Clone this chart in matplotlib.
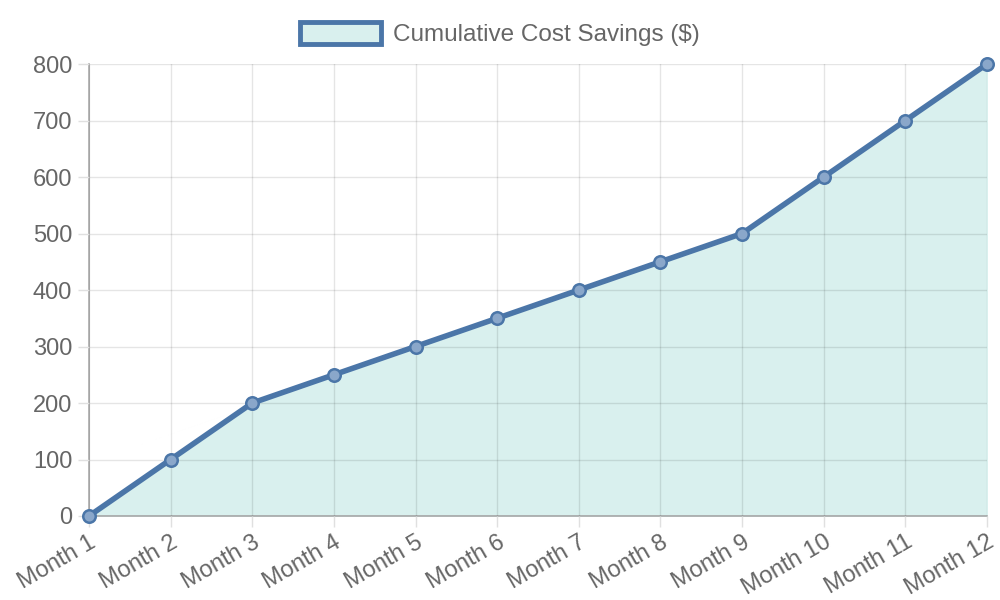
import numpy as np
import matplotlib.pyplot as plt
from matplotlib.patches import Patch

months = ["Month 1", "Month 2", "Month 3", "Month 4", "Month 5", "Month 6",
          "Month 7", "Month 8", "Month 9", "Month 10", "Month 11", "Month 12"]
savings = [0, 100, 200, 250, 300, 350, 400, 450, 500, 600, 700, 800]

line_color = '#4b76a8'
fill_color = '#d9f0ee'
text_color = '#666666'

plt.rcParams['font.family'] = ['Liberation Sans', 'DejaVu Sans']

fig = plt.figure(figsize=(10, 6), dpi=100)
ax = fig.add_axes([0.089, 0.14, 0.898, 0.7533])

x = np.arange(len(months))
ax.fill_between(x, savings, 0, color=fill_color, zorder=0.5)
ax.plot(x, savings, color=line_color, linewidth=4, zorder=3,
        marker='o', markersize=9, markerfacecolor='#8aa7ca',
        markeredgecolor=line_color, markeredgewidth=1.8, clip_on=False)

ax.set_xlim(0, len(months) - 1)
ax.set_ylim(0, 800)
ax.set_yticks(range(0, 801, 100))
ax.set_xticks(x)
ax.set_xticklabels(months, rotation=30, ha='right', rotation_mode='anchor')
ax.grid(True, color='#000000', alpha=0.1, linewidth=1, zorder=1)
ax.set_axisbelow(False)
ax.tick_params(colors=text_color, labelsize=17, length=8, width=1,
               color='#e0e0e0', pad=4)
ax.tick_params(axis='x', pad=3)
for s in ['top', 'right']:
    ax.spines[s].set_visible(False)
for s in ['left', 'bottom']:
    ax.spines[s].set_color('#aaaaaa')
    ax.spines[s].set_linewidth(1.2)
    ax.spines[s].set_zorder(2)

handle = Patch(facecolor=fill_color, edgecolor=line_color, linewidth=3.5)
fig.legend(handles=[handle], labels=["Cumulative Cost Savings ($)"],
           loc='upper center', bbox_to_anchor=(0.5, 1.0), frameon=False,
           fontsize=17.5, labelcolor=text_color, handlelength=3.3,
           handleheight=1.0, handletextpad=0.5)

fig.savefig('out.png', dpi=100)
